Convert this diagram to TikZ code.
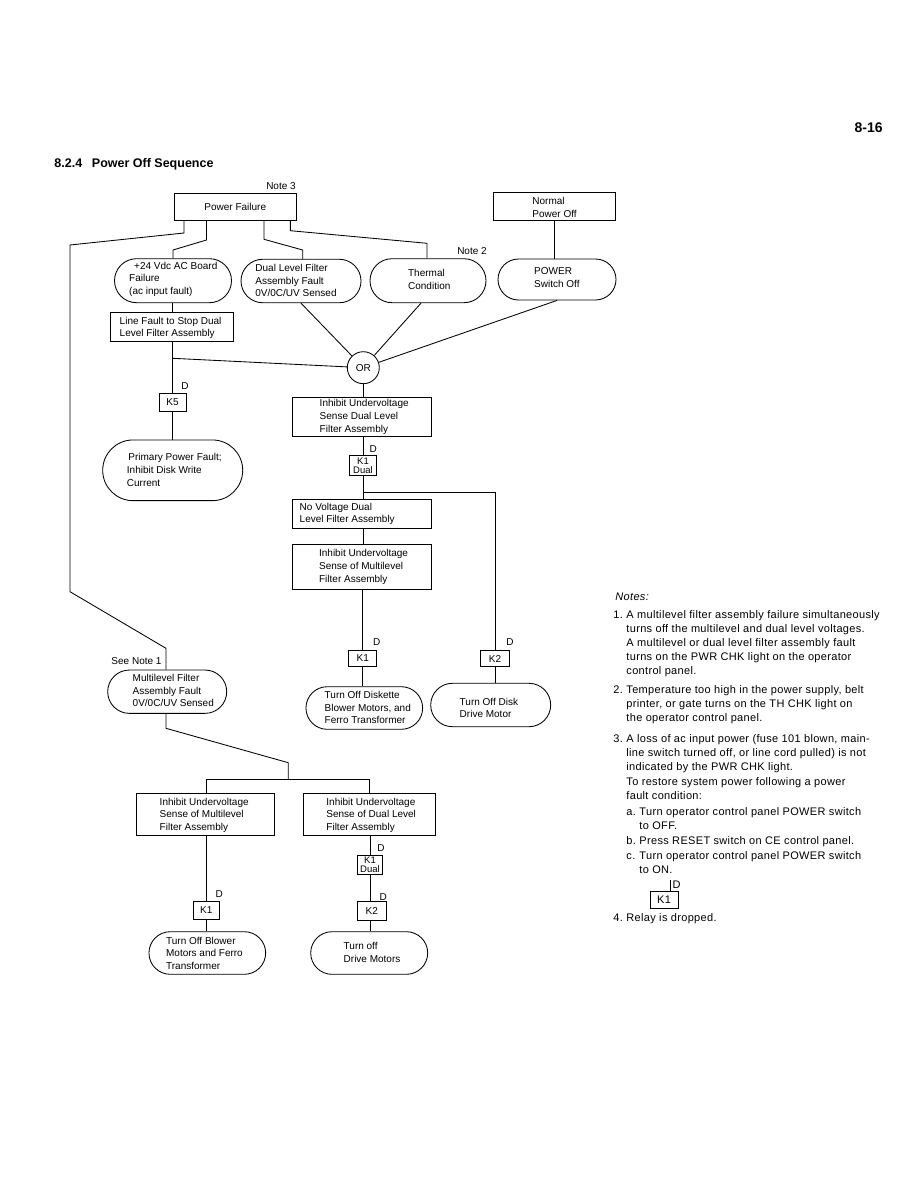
\documentclass[tikz,border=0pt]{standalone}
\usepackage{fontspec}
\setmainfont{Liberation Sans}
\newfontfamily\notefont[LetterSpace=3]{Liberation Sans}
\begin{document}
\begin{tikzpicture}[x=1pt,y=-1pt,line width=0.85pt,
  box/.style={draw,rectangle,inner sep=0pt},
  pill/.style={draw,rectangle,inner sep=0pt,rounded corners=#1},
  txt/.style={inner sep=0pt,align=left,anchor=west,font=\fontsize{10}{12.7}\selectfont},
  lbl/.style={inner sep=0pt,font=\fontsize{10}{12}\selectfont},
  relay/.style={draw,rectangle,inner sep=0pt,font=\fontsize{10}{12}\selectfont},
  relaytwo/.style={draw,rectangle,inner sep=0pt,align=center,font=\fontsize{9.5}{9}\selectfont},
  note/.style={inner sep=0pt,anchor=base west,font=\notefont\fontsize{11}{14}\selectfont}]
\useasboundingbox (0,0) rectangle (918,1188);

% page header
\node[anchor=base east,inner sep=0pt,font=\bfseries\fontsize{14}{16}\selectfont] (pg) at (883,132) {8-16};
\node[anchor=base west,inner sep=0pt,font=\bfseries\fontsize{12.5}{14}\selectfont] (title) at (54,167) {8.2.4\hspace{0.5em} Power Off Sequence};

% top row
\node[box,minimum width=122.3pt,minimum height=26.7pt,font=\fontsize{10}{12}\selectfont] (pf) at (235.3,206.7) {Power Failure};
\node[lbl] (n3) at (281,186) {Note 3};
\node[box,minimum width=122pt,minimum height=28pt] (np) at (554,206.7) {};
\node[txt] (np-t) at (532,207.3) {Normal\\Power Off};

\node[pill=22pt,minimum width=117pt,minimum height=44pt] (ac) at (173,280.7) {};
\node[txt] (ac-t) at (128.8,279.3) {\hspace*{5pt}+24 Vdc AC Board\\Failure\\(ac input fault)};
\node[pill=21.75pt,minimum width=120pt,minimum height=43.5pt] (dl) at (301,281) {};
\node[txt] (dl-t) at (255,280.7) {Dual Level Filter\\Assembly Fault\\0V/0C/UV Sensed};
\node[pill=22pt,minimum width=116pt,minimum height=44pt] (th) at (428,280.7) {};
\node[txt] (th-t) at (407.7,279.5) {Thermal\\Condition};
\node[pill=20.5pt,minimum width=118pt,minimum height=41pt] (ps) at (557,279.5) {};
\node[txt] (ps-t) at (533.8,277.7) {POWER\\Switch Off};
\node[lbl] (n2) at (472,251) {Note 2};

% left column
\node[box,minimum width=123.3pt,minimum height=29.4pt] (lf) at (171.7,327) {};
\node[txt] (lf-t) at (119.3,328) {Line Fault to Stop Dual\\Level Filter Assembly};
\node[relay,minimum width=27pt,minimum height=17.7pt] (k5) at (172.5,402.2) {K5};
\node[lbl] (k5d) at (185,385.7) {D};
\node[pill=30.3pt,minimum width=140pt,minimum height=60.7pt] (pr) at (172.7,470.3) {};
\node[txt] (pr-t) at (126.5,470) {\hspace*{1.5pt}Primary Power Fault;\\Inhibit Disk Write\\Current};

% centre column
\node[circle,draw,minimum size=32pt,inner sep=0pt,font=\fontsize{10}{12}\selectfont] (or) at (363.3,367.7) {OR};
\node[box,minimum width=139.4pt,minimum height=38.3pt] (iud) at (362,416.8) {};
\node[txt] (iud-t) at (319.3,417) {Inhibit Undervoltage\\Sense Dual Level\\Filter Assembly};
\node[relaytwo,minimum width=27.4pt,minimum height=20pt] (k1d) at (363,465.7) {K1\\Dual};
\node[lbl] (k1dd) at (373.3,449) {D};
\node[box,minimum width=139.4pt,minimum height=29.3pt] (nv) at (362,513.7) {};
\node[txt] (nv-t) at (299.3,513.9) {No Voltage Dual\\Level Filter Assembly};
\node[box,minimum width=139.4pt,minimum height=44.7pt] (ium) at (362,566.7) {};
\node[txt] (ium-t) at (318.7,566.8) {Inhibit Undervoltage\\Sense of Multilevel\\Filter Assembly};
\node[relay,minimum width=28pt,minimum height=16pt] (k1a) at (362.7,658) {K1};
\node[lbl] (k1ad) at (376.7,641.7) {D};
\node[relay,minimum width=28.6pt,minimum height=16pt] (k2a) at (495,658.7) {K2};
\node[lbl] (k2ad) at (510,641.7) {D};
\node[pill=21.3pt,minimum width=116.7pt,minimum height=42.6pt] (dk) at (364.3,708) {};
\node[txt] (dk-t) at (324.3,707.7) {Turn Off Diskette\\Blower Motors, and\\Ferro Transformer};
\node[pill=21.7pt,minimum width=120pt,minimum height=43.4pt] (dd) at (490.7,705) {};
\node[txt] (dd-t) at (459.3,707.9) {Turn Off Disk\\Drive Motor};

% multilevel branch
\node[lbl] (sn1) at (136.5,661) {See Note 1};
\node[pill=21.6pt,minimum width=119pt,minimum height=43.3pt] (mf) at (167.2,691.7) {};
\node[txt] (mf-t) at (132.3,690.7) {Multilevel Filter\\Assembly Fault\\0V/0C/UV Sensed};
\node[box,minimum width=137.3pt,minimum height=42.4pt] (ium2) at (205.3,814.5) {};
\node[txt] (ium2-t) at (159.3,815.3) {Inhibit Undervoltage\\Sense of Multilevel\\Filter Assembly};
\node[box,minimum width=131.7pt,minimum height=42.4pt] (iud2) at (369.2,814.5) {};
\node[txt] (iud2-t) at (326,815.3) {Inhibit Undervoltage\\Sense of Dual Level\\Filter Assembly};
\node[relay,minimum width=25.7pt,minimum height=18.3pt] (k1b) at (206.2,910.2) {K1};
\node[lbl] (k1bd) at (219.3,894.3) {D};
\node[relaytwo,minimum width=25.4pt,minimum height=19.3pt] (k1d2) at (370,864.7) {K1\\Dual};
\node[lbl] (k1d2d) at (381,847.7) {D};
\node[relay,minimum width=28.7pt,minimum height=18.3pt] (k2b) at (371.7,910.8) {K2};
\node[lbl] (k2bd) at (383.3,897.3) {D};
\node[pill=21.3pt,minimum width=116.7pt,minimum height=42.6pt] (bl) at (207.3,953) {};
\node[txt] (bl-t) at (165.7,953.3) {Turn Off Blower\\Motors and Ferro\\Transformer};
\node[pill=21.3pt,minimum width=117pt,minimum height=42.6pt] (dm) at (369.2,953) {};
\node[txt] (dm-t) at (343.3,952.5) {Turn off\\Drive Motors};

% connectors
\coordinate (c1a) at (184,233);
\coordinate (c1b) at (70,245);
\coordinate (c1c) at (70,591.7);
\coordinate (c1d) at (166,648.3);
\draw (pf.south -| c1a) -- (c1a) -- (c1b) -- (c1c) -- (c1d) -- (c1d |- mf.north);
\coordinate (c2a) at (206.5,240);
\coordinate (c2b) at (173,250);
\draw (pf.south -| c2a) -- (c2a) -- (c2b) -- (c2b |- ac.north);
\coordinate (c3a) at (264,239.3);
\coordinate (c3b) at (302.7,250);
\draw (pf.south -| c3a) -- (c3a) -- (c3b) -- (c3b |- dl.north);
\coordinate (c4a) at (290.4,230.7);
\coordinate (c4b) at (427,243.3);
\draw (pf.south -| c4a) -- (c4a) -- (c4b) -- (c4b |- th.north);
\draw (np.south) -- (np.south |- ps.north);

\coordinate (j1) at (172.7,358.3);
\draw (j1 |- ac.south) -- (j1 |- lf.north);
\draw (j1 |- lf.south) -- (j1 |- k5.north);
\draw (j1) -- (or);
\draw (k5.south -| j1) -- (j1 |- pr.north);
\draw (dl.south) -- (or);
\draw ([xshift=-7pt]th.south) -- (or);
\draw (ps.south) -- (or);

\draw (or.south) -- (or.south |- iud.north);
\draw (iud.south -| k1d) -- (k1d.north);
\draw (k1d.south) -- (k1d.south |- nv.north);
\coordinate (j2) at (363,492.3);
\draw (j2) -- (j2 -| k2a) -- (k2a.north);
\draw (nv.south -| k1d) -- (ium.north -| k1d);
\draw (ium.south -| k1a) -- (k1a.north);
\draw (k1a.south) -- (k1a.south |- dk.north);
\draw (k2a.south) -- (k2a.south |- dd.north);

\coordinate (c5a) at (166,728.3);
\coordinate (c5b) at (288.3,762.7);
\coordinate (j3) at (288.3,779);
\draw (mf.south -| c5a) -- (c5a) -- (c5b) -- (j3);
\coordinate (c6l) at (206,779);
\coordinate (c6r) at (369.3,779);
\draw (c6l |- ium2.north) -- (c6l) -- (c6r) -- (c6r |- iud2.north);
\draw (ium2.south -| k1b) -- (k1b.north);
\draw (k1b.south) -- (k1b.south |- bl.north);
\draw (iud2.south -| k1d2) -- (k1d2.north);
\draw (k1d2.south) -- (k1d2.south |- k2b.north);
\draw (k2b.south -| k1d2) -- (k1d2 |- dm.north);

% notes
\node[note,font=\notefont\itshape\fontsize{11}{14}\selectfont] (nt) at (615,600.5) {Notes:};
\node[note] (n1n) at (613,618) {1.};
\node[note] (n1a) at (626,618) {A multilevel filter assembly failure simultaneously};
\node[note] (n1b) at (626,632) {turns off the multilevel and dual level voltages.};
\node[note] (n1c) at (626,646) {A multilevel or dual level filter assembly fault};
\node[note] (n1d) at (626,660) {turns on the PWR CHK light on the operator};
\node[note] (n1e) at (626,674) {control panel.};
\node[note] (n2n) at (613,693.5) {2.};
\node[note] (n2a) at (626,693.5) {Temperature too high in the power supply, belt};
\node[note] (n2b) at (626,707.5) {printer, or gate turns on the TH CHK light on};
\node[note] (n2c) at (626,721.5) {the operator control panel.};
\node[note] (n3n) at (613,742) {3.};
\node[note] (n3a) at (626,742) {A loss of ac input power (fuse 101 blown, main-};
\node[note] (n3b) at (626,756) {line switch turned off, or line cord pulled) is not};
\node[note] (n3c) at (626,770) {indicated by the PWR CHK light.};
\node[note] (n3d) at (626,785) {To restore system power following a power};
\node[note] (n3e) at (626,799) {fault condition:};
\node[note] (nan) at (626,815) {a.};
\node[note] (na1) at (639,815) {Turn operator control panel POWER switch};
\node[note] (na2) at (639,829) {to OFF.};
\node[note] (nbn) at (626,844) {b.};
\node[note] (nb1) at (639,844) {Press RESET switch on CE control panel.};
\node[note] (ncn) at (626,859) {c.};
\node[note] (nc1) at (639,859) {Turn operator control panel POWER switch};
\node[note] (nc2) at (639,873) {to ON.};
\node[draw,inner sep=0pt,minimum width=28pt,minimum height=17pt,font=\notefont\fontsize{11}{12}\selectfont] (nk1) at (664,899.5) {K1};
\coordinate (ntk) at (670,880);
\draw (ntk) -- (ntk |- nk1.north);
\node[lbl,font=\notefont\fontsize{11}{12}\selectfont] (nkd) at (676.5,884.5) {D};
\node[note] (n4n) at (613,921.8) {4.};
\node[note] (n4a) at (626,921.8) {Relay is dropped.};
\end{tikzpicture}
\end{document}
